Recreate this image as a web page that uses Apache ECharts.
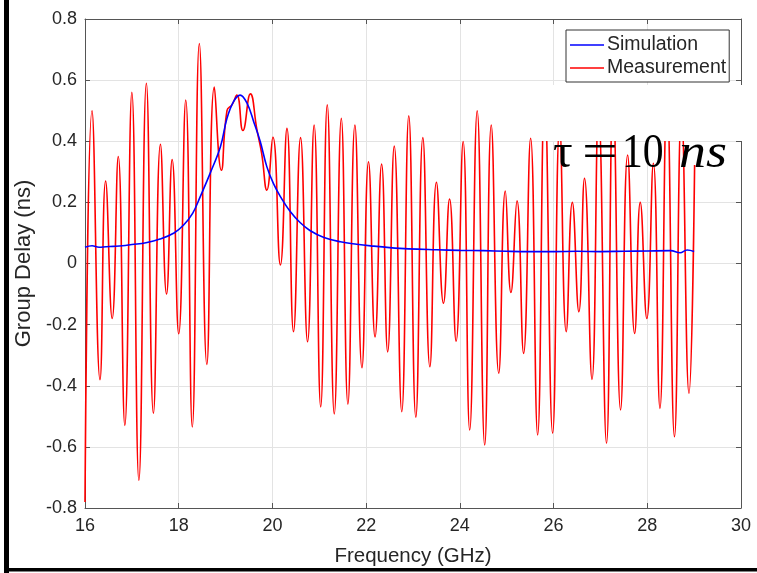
<!DOCTYPE html>
<html>
<head>
<meta charset="utf-8">
<script src="https://cdn.jsdelivr.net/npm/echarts@6/dist/echarts.min.js"></script>
<style>html,body{margin:0;padding:0;background:#fff}#c{width:757px;height:573px}</style>
</head>
<body>
<div id="c"></div>
<script>
// ---- data ----
const xTicks = [16, 18, 20, 22, 24, 26, 28, 30];
const yTicks = [-0.8, -0.6, -0.4, -0.2, 0, 0.2, 0.4, 0.6, 0.8];

const simFreq  = [16.0, 16.15, 16.3, 16.45, 16.6, 16.8, 17.0, 17.3, 17.6, 17.9, 18.1, 18.3, 18.46, 18.67, 18.89, 19.03, 19.17, 19.31, 19.46, 19.6, 19.74, 19.88, 20.02, 20.17, 20.38, 20.59, 20.8, 21.1, 21.45, 21.8, 22.15, 22.5, 22.9, 23.5, 24.0, 24.5, 25.0, 25.5, 26.0, 26.5, 27.0, 27.5, 28.0, 28.5, 28.7, 28.85, 29.0];
const simDelay = [0.053, 0.058, 0.053, 0.055, 0.056, 0.058, 0.062, 0.068, 0.08, 0.1, 0.125, 0.165, 0.219, 0.295, 0.382, 0.475, 0.53, 0.551, 0.524, 0.464, 0.399, 0.317, 0.262, 0.219, 0.17, 0.134, 0.108, 0.085, 0.071, 0.063, 0.057, 0.052, 0.048, 0.045, 0.043, 0.042, 0.04, 0.039, 0.039, 0.04, 0.039, 0.04, 0.041, 0.042, 0.035, 0.044, 0.039];

const measFreq  = [16.0, 16.15, 16.32, 16.44, 16.58, 16.71, 16.85, 17.0, 17.15, 17.31, 17.46, 17.61, 17.74, 17.86, 18.0, 18.15, 18.29, 18.44, 18.6, 18.76, 18.91, 19.03, 19.14, 19.24, 19.37, 19.53, 19.67, 19.77, 19.88, 20.01, 20.17, 20.31, 20.45, 20.6, 20.75, 20.89, 21.03, 21.17, 21.32, 21.47, 21.61, 21.76, 21.91, 22.05, 22.19, 22.33, 22.46, 22.6, 22.76, 22.91, 23.06, 23.21, 23.36, 23.5, 23.65, 23.78, 23.92, 24.07, 24.21, 24.37, 24.53, 24.67, 24.83, 24.97, 25.09, 25.22, 25.36, 25.51, 25.66, 25.81, 25.98, 26.13, 26.27, 26.4, 26.54, 26.66, 26.82, 26.96, 27.13, 27.27, 27.43, 27.58, 27.73, 27.85, 27.99, 28.13, 28.27, 28.42, 28.58, 28.73, 28.89, 29.01];
const measDelay = [-0.78, 0.50, -0.38, 0.27, -0.18, 0.35, -0.53, 0.56, -0.71, 0.59, -0.49, 0.39, -0.10, 0.34, -0.23, 0.535, -0.535, 0.72, -0.33, 0.577, 0.305, 0.50, 0.52, 0.551, 0.435, 0.555, 0.437, 0.36, 0.24, 0.413, -0.005, 0.442, -0.223, 0.412, -0.256, 0.453, -0.469, 0.519, -0.492, 0.475, -0.46, 0.453, -0.341, 0.333, -0.24, 0.325, -0.289, 0.384, -0.485, 0.483, -0.503, 0.412, -0.338, 0.266, -0.13, 0.211, -0.254, 0.399, -0.545, 0.50, -0.594, 0.453, -0.359, 0.237, -0.095, 0.205, -0.294, 0.41, -0.561, 0.55, -0.555, 0.45, -0.223, 0.20, -0.158, 0.279, -0.379, 0.50, -0.588, 0.55, -0.479, 0.355, -0.229, 0.20, -0.18, 0.328, -0.474, 0.55, -0.567, 0.50, -0.425, 0.322];

const seriesNames = ['Simulation', 'Measurement'];
const xName = 'Frequency (GHz)';
const yName = 'Group Delay (ns)';

// ---- chart ----
const chart = echarts.init(document.getElementById('c'), null, {renderer: 'canvas'});
const axisColor = '#555';
const font = 'Liberation Sans, Arial, Helvetica, sans-serif';
const serif = 'Liberation Serif, Times New Roman, serif';

const xBase = {
  type: 'value', min: xTicks[0], max: xTicks[xTicks.length - 1], interval: xTicks[1] - xTicks[0],
  axisLine: {show: true, onZero: false, lineStyle: {color: axisColor, width: 1}},
  axisTick: {show: true, inside: true, length: 5, lineStyle: {color: axisColor}},
};
const yBase = {
  type: 'value', min: yTicks[0], max: yTicks[yTicks.length - 1], interval: 0.2,
  axisLine: {show: true, onZero: false, lineStyle: {color: axisColor, width: 1}},
  axisTick: {show: true, inside: true, length: 5, lineStyle: {color: axisColor}},
};

const txt = (t, x, size, extra) => Object.assign({
  type: 'text', x: x, y: 130, z: 6, silent: true,
  style: {text: t, font: size, fill: '#000', verticalAlign: 'alphabetic', textVerticalAlign: 'alphabetic'}
}, extra || {});

chart.setOption({
  animation: false,
  backgroundColor: '#fff',
  grid: {left: 85, right: 16, top: 19, bottom: 65, containLabel: false},
  xAxis: [
    Object.assign({}, xBase, {
      position: 'bottom',
      name: xName, nameLocation: 'middle', nameGap: 38,
      nameTextStyle: {fontFamily: font, fontSize: 20.5, color: '#262626'},
      axisLabel: {show: true, fontFamily: font, fontSize: 18, color: '#262626', margin: 9},
      splitLine: {show: true, lineStyle: {color: '#e3e3e3', width: 1}}
    }),
    Object.assign({}, xBase, {
      position: 'top', axisLabel: {show: false}, splitLine: {show: false}
    })
  ],
  yAxis: [
    Object.assign({}, yBase, {
      position: 'left',
      name: yName, nameLocation: 'middle', nameGap: 50,
      nameTextStyle: {fontFamily: font, fontSize: 22, color: '#262626'},
      axisLabel: {show: true, fontFamily: font, fontSize: 18, color: '#262626', margin: 8,
        formatter: v => String(+v.toFixed(1))},
      splitLine: {show: true, lineStyle: {color: '#e3e3e3', width: 1}}
    }),
    Object.assign({}, yBase, {
      position: 'right', axisLabel: {show: false}, splitLine: {show: false}
    })
  ],
  legend: {
    orient: 'vertical', left: 566, top: 30,
    data: seriesNames,
    icon: 'rect', itemWidth: 34, itemHeight: 1.5, itemGap: 3,
    padding: [5, 3, 4, 4],
    backgroundColor: '#fff', borderColor: '#333', borderWidth: 1,
    textStyle: {fontFamily: font, fontSize: 19.5, color: '#262626', padding: [0, 0, 0, -2], lineHeight: 19},
    z: 10
  },
  series: [
    {
      name: seriesNames[0], type: 'line', xAxisIndex: 0, yAxisIndex: 0,
      data: simFreq.map((f, i) => [f, simDelay[i]]),
      symbol: 'none', smooth: 0.4,
      lineStyle: {color: '#0000ff', width: 1.6}, itemStyle: {color: '#0000ff'}, z: 3
    },
    {
      name: seriesNames[1], type: 'line', xAxisIndex: 0, yAxisIndex: 0,
      data: measFreq.map((f, i) => [f, measDelay[i]]),
      symbol: 'none', smooth: 0.5,
      lineStyle: {color: '#ff0000', width: 1.6}, itemStyle: {color: '#ff0000'}, z: 2
    }
  ],
  graphic: [
    {type: 'rect', shape: {x: 538, y: 85, width: 219, height: 56}, style: {fill: '#fff'}, z: 5, silent: true},
    txt('τ', 553, '49px ' + serif),
    txt('=', 582, '49px ' + serif, {scaleX: 1.3}),
    txt('10', 622, '49px ' + serif, {scaleX: 0.85}),
    txt('ns', 679, 'italic 49px ' + serif, {scaleX: 1.1}),
    {type: 'rect', shape: {x: 4, y: 0, width: 5, height: 573}, style: {fill: '#000'}, z: 10, silent: true},
    {type: 'rect', shape: {x: 4, y: 568, width: 753, height: 3.5}, style: {fill: '#000'}, z: 10, silent: true}
  ]
});
</script>
</body>
</html>
